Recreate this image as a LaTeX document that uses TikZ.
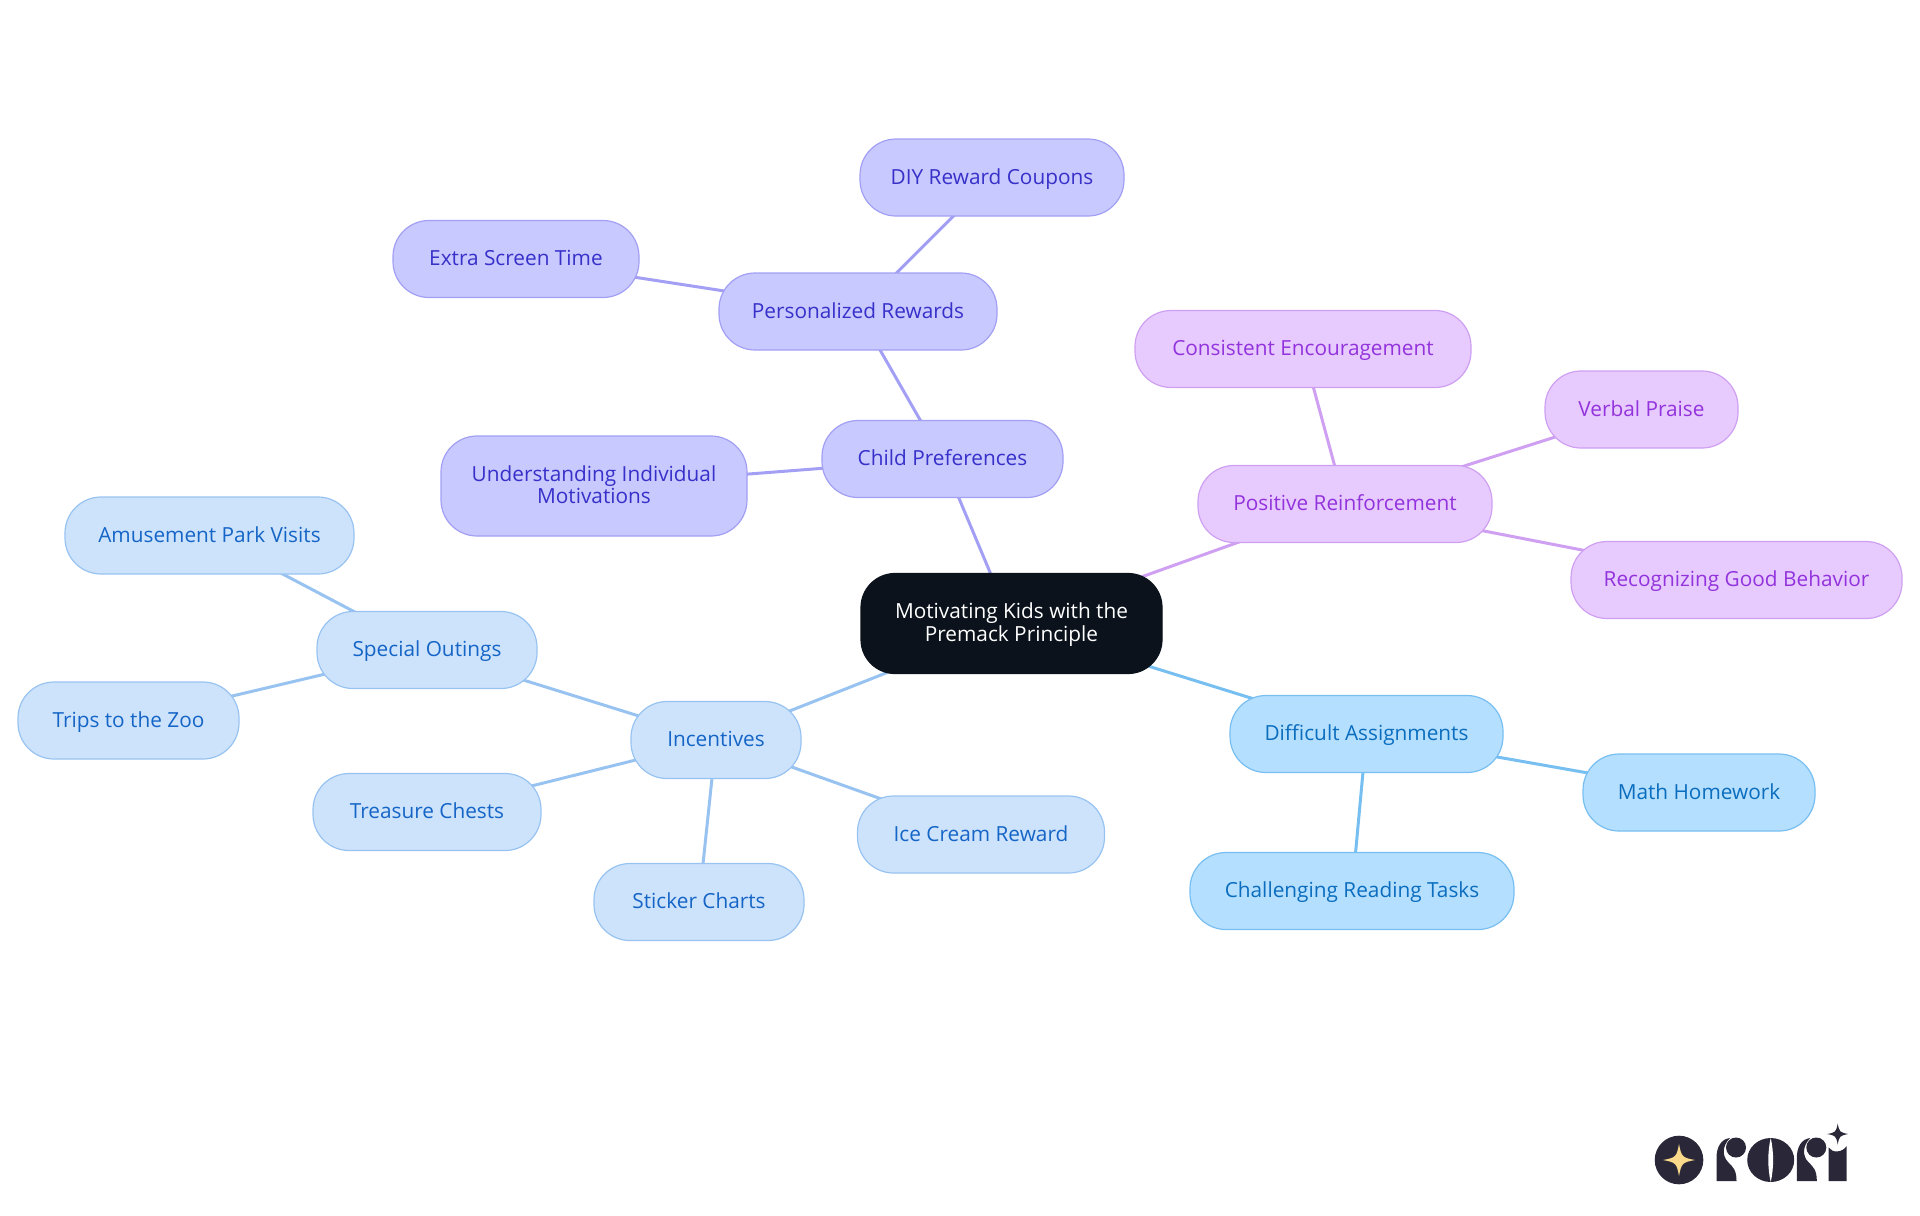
\documentclass[tikz,border=0pt]{standalone}
\usepackage{fontspec}
\setmainfont{Open Sans}
\usetikzlibrary{backgrounds}

\definecolor{rootfill}{HTML}{0B121B}
\definecolor{indigofill}{HTML}{C8C9FE}
\definecolor{indigoline}{HTML}{A29FF4}
\definecolor{indigotext}{HTML}{3730C9}
\definecolor{purplefill}{HTML}{E7CAFE}
\definecolor{purpleline}{HTML}{CFA0F2}
\definecolor{purpletext}{HTML}{9333DC}
\definecolor{skyfill}{HTML}{B5DFFE}
\definecolor{skyline}{HTML}{78BFF1}
\definecolor{skytext}{HTML}{0A6DBE}
\definecolor{bluefill}{HTML}{CDE3FC}
\definecolor{blueline}{HTML}{98C3F1}
\definecolor{bluetext}{HTML}{1565C6}
\definecolor{logodark}{HTML}{2A2838}
\definecolor{logogold}{HTML}{FBD98A}

\tikzset{
  mapnode/.style={rectangle, rounded corners=18pt, line width=.6pt, align=center,
    minimum height=38.5pt, inner sep=0pt, outer sep=0pt,
    font=\fontsize{10.4}{11.25}\selectfont, text height=8.3pt, text depth=1.8pt},
  wide/.style={minimum width=#1*.5pt},
  twolines/.style={minimum height=50pt, text height=19.5pt},
  rootnode/.style={mapnode, twolines, draw=rootfill, fill=rootfill, text=white, rounded corners=17pt},
  indigonode/.style={mapnode, draw=indigoline, fill=indigofill, text=indigotext},
  purplenode/.style={mapnode, draw=purpleline, fill=purplefill, text=purpletext},
  skynode/.style={mapnode, draw=skyline, fill=skyfill, text=skytext},
  bluenode/.style={mapnode, draw=blueline, fill=bluefill, text=bluetext},
  branch/.style={line width=1.5pt}
}

\newcommand{\sparkle}[4]{% center x, center y, arm, colour
  \fill[#4] (#1-#3,#2) .. controls (#1-#3*.2,#2-#3*.15) and (#1-#3*.15,#2-#3*.2) .. (#1,#2-#3)
    .. controls (#1+#3*.15,#2-#3*.2) and (#1+#3*.2,#2-#3*.15) .. (#1+#3,#2)
    .. controls (#1+#3*.2,#2+#3*.15) and (#1+#3*.15,#2+#3*.2) .. (#1,#2+#3)
    .. controls (#1-#3*.15,#2+#3*.2) and (#1-#3*.2,#2+#3*.15) .. (#1-#3,#2) -- cycle;}
\newcommand{\logoletter}[1]{% the stem and ball, moved right by #1
  \fill[logodark] (1716.5+#1,1181) -- (1716.5+#1,1158) .. controls (1716.5+#1,1147) and (1721+#1,1139) .. (1730+#1,1138)
    .. controls (1722+#1,1146) and (1722+#1,1156) .. (1728+#1,1162)
    .. controls (1733+#1,1167) and (1736.5+#1,1170) .. (1736.5+#1,1181) -- cycle;
  \fill[logodark] (1736+#1,1147.5) circle[radius=10];}

\begin{document}
\begin{tikzpicture}[x=.5pt, y=-.5pt]
  \useasboundingbox (0,0) rectangle (1920,1215);

  \node[rootnode, wide=301] (root) at (1011.5,623.5) {Motivating Kids with the\\Premack Principle};

  % preferences
  \node[indigonode, wide=241] (prefs) at (942.5,459) {Child Preferences};
  \node[indigonode, wide=278] (rewards) at (858,311.5) {Personalized Rewards};
  \node[indigonode, wide=264] (coupons) at (992,177.5) {DIY Reward Coupons};
  \node[indigonode, wide=246] (screen) at (516,259) {Extra Screen Time};
  \node[indigonode, twolines, wide=306] (motives) at (594,486) {Understanding Individual\\Motivations};

  % reinforcement
  \node[purplenode, wide=294] (positive) at (1345,504) {Positive Reinforcement};
  \node[purplenode, wide=336] (encourage) at (1303,349) {Consistent Encouragement};
  \node[purplenode, wide=193] (praise) at (1641.5,409.5) {Verbal Praise};
  \node[purplenode, wide=331] (behavior) at (1736.5,580) {Recognizing Good Behavior};

  % assignments
  \node[skynode, wide=273] (difficult) at (1366.5,734) {Difficult Assignments};
  \node[skynode, wide=232] (math) at (1699,792.5) {Math Homework};
  \node[skynode, wide=324] (reading) at (1352,891) {Challenging Reading Tasks};

  % incentives
  \node[bluenode, wide=170] (incentives) at (716,740) {Incentives};
  \node[bluenode, wide=220] (outings) at (427,650) {Special Outings};
  \node[bluenode, wide=289] (park) at (209.5,535.5) {Amusement Park Visits};
  \node[bluenode, wide=221] (zoo) at (128.5,720.5) {Trips to the Zoo};
  \node[bluenode, wide=228] (chests) at (427,812) {Treasure Chests};
  \node[bluenode, wide=210] (sticker) at (699,902) {Sticker Charts};
  \node[bluenode, wide=247] (icecream) at (981,834.5) {Ice Cream Reward};

  \begin{scope}[on background layer]
    \draw[branch, indigoline] (root.center) -- (prefs.center);
    \draw[branch, indigoline] (prefs.center) -- (rewards.center);
    \draw[branch, indigoline] (prefs.center) -- (motives.center);
    \draw[branch, indigoline] (rewards.center) -- (coupons.center);
    \draw[branch, indigoline] (rewards.center) -- (screen.center);
    \draw[branch, purpleline] (root.center) -- (positive.center);
    \draw[branch, purpleline] (positive.center) -- (encourage.center);
    \draw[branch, purpleline] (positive.center) -- (praise.center);
    \draw[branch, purpleline] (positive.center) -- (behavior.center);
    \draw[branch, skyline] (root.center) -- (difficult.center);
    \draw[branch, skyline] (difficult.center) -- (math.center);
    \draw[branch, skyline] (difficult.center) -- (reading.center);
    \draw[branch, blueline] (root.center) -- (incentives.center);
    \draw[branch, blueline] (incentives.center) -- (outings.center);
    \draw[branch, blueline] (incentives.center) -- (chests.center);
    \draw[branch, blueline] (incentives.center) -- (sticker.center);
    \draw[branch, blueline] (incentives.center) -- (icecream.center);
    \draw[branch, blueline] (outings.center) -- (park.center);
    \draw[branch, blueline] (outings.center) -- (zoo.center);
  \end{scope}

  % logo
  \fill[logodark] (1679,1160) circle[radius=24.3];
  \sparkle{1679}{1160}{16}{logogold}
  \logoletter{0}
  \logoletter{80.3}
  \fill[logodark] (1770.7,1160) ellipse[x radius=23.5, y radius=22];
  \fill[white] (1770.7,1138) .. controls (1767.5,1152) and (1767.5,1168) .. (1770.7,1182)
    .. controls (1773.9,1168) and (1773.9,1152) .. (1770.7,1138) -- cycle;
  \fill[logodark] (1828.7,1181) -- (1828.7,1147.5) .. controls (1832,1153) and (1842,1153) .. (1846.7,1146) -- (1846.7,1181) -- cycle;
  \sparkle{1837.7}{1134}{10.5}{logodark}
\end{tikzpicture}
\end{document}
